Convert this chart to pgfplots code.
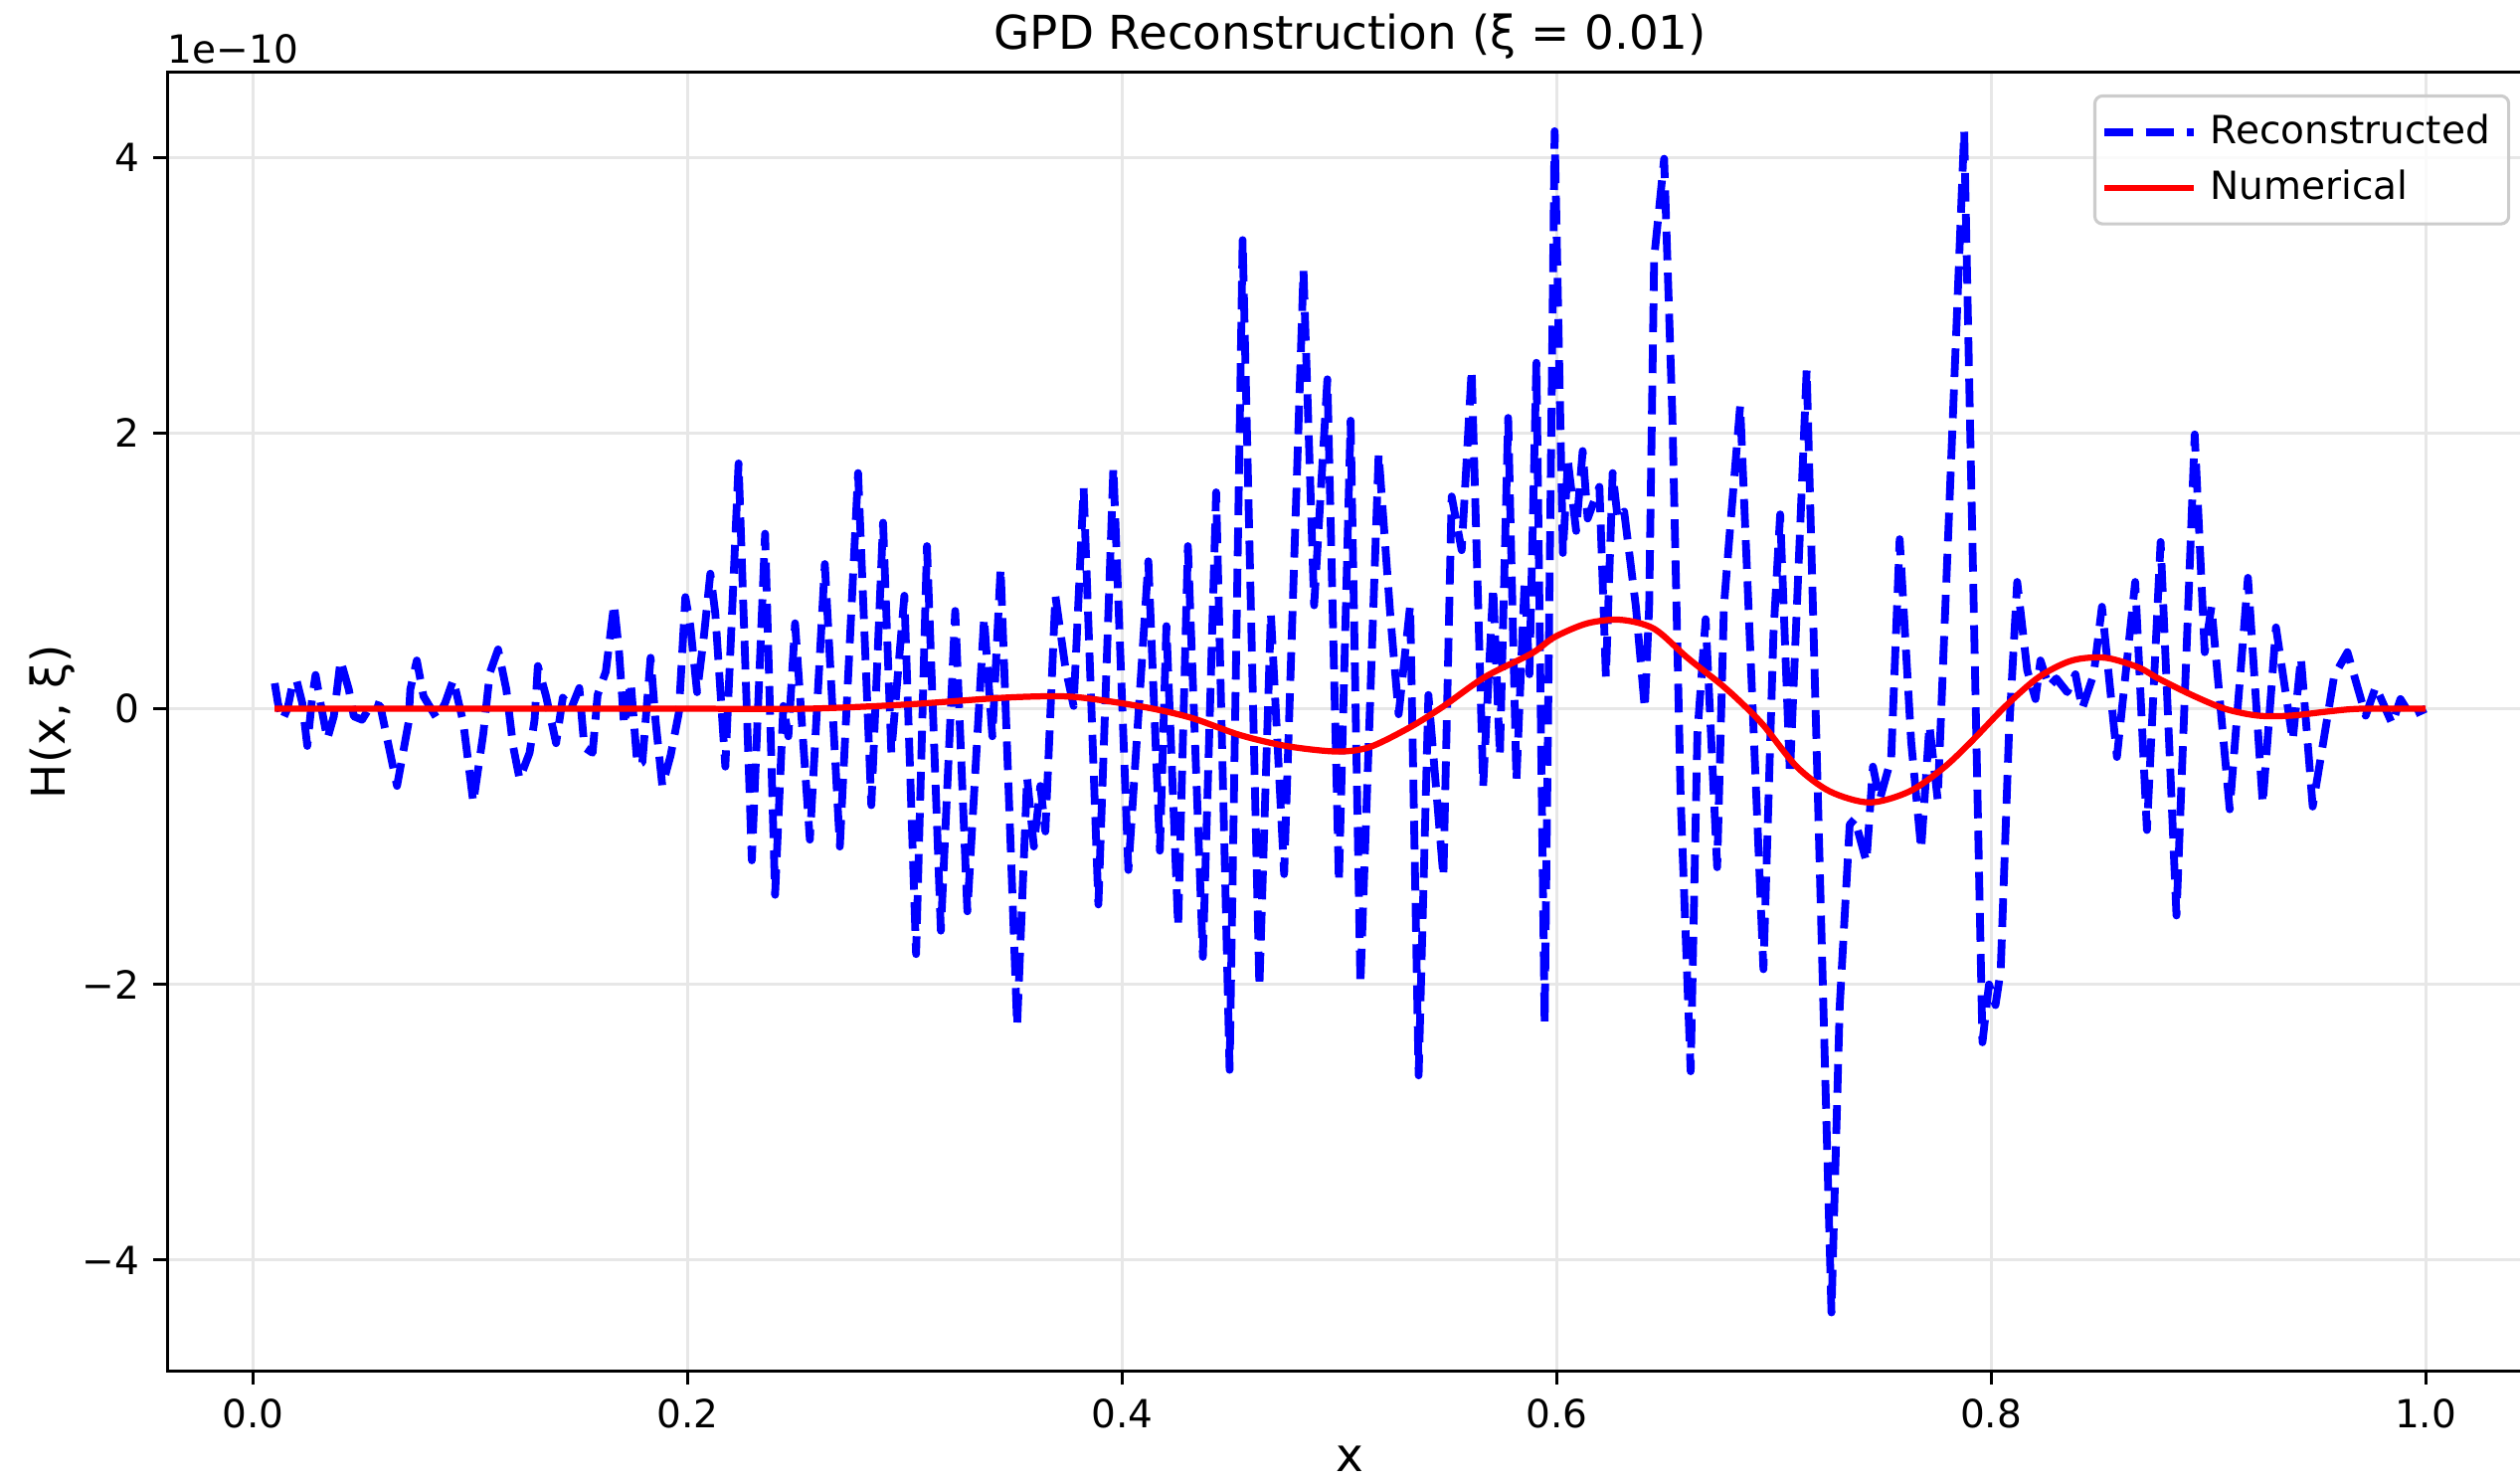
\documentclass[border=0pt]{standalone}
\usepackage{fontspec}
\setmainfont{DejaVu Sans}
\usepackage{pgfplots}
\pgfplotsset{compat=1.18}
\definecolor{gridc}{RGB}{231,231,231}
\definecolor{legedge}{RGB}{204,204,204}

\begin{document}
\begin{tikzpicture}[font=\fontsize{10}{12}\selectfont]
\begin{axis}[
  at={(0,0)}, anchor=south west,
  scale only axis,
  width=610pt, height=334.8pt,
  xmin=-0.0395, xmax=1.0495,
  ymin=-4.804, ymax=4.618,
  axis line style={line width=0.8pt},
  xtick={0,0.2,0.4,0.6,0.8,1.0},
  xticklabels={0.0,0.2,0.4,0.6,0.8,1.0},
  ytick={-4,-2,0,2,4},
  yticklabels={−4,−2,0,2,4},
  tick align=outside,
  tick pos=left,
  major tick length=3.5pt,
  every tick/.style={line width=0.8pt, black},
  minor tick num=0,
  grid=major,
  major grid style={line width=0.8pt, draw=gridc},
  xticklabel style={inner sep=0pt, font=\fontsize{10}{12}\selectfont},
  yticklabel style={inner sep=0pt, font=\fontsize{10}{12}\selectfont},
  xticklabel shift=3.5pt,
  yticklabel shift=3.5pt,
  xlabel={x},
  ylabel={H(x, ξ)},
  every axis x label/.style={at={(rel axis cs:0.5,0)}, anchor=base, yshift=-26pt, font=\fontsize{12}{14}\selectfont},
  every axis y label/.style={at={(rel axis cs:0,0.5)}, xshift=-29.5pt, rotate=90, anchor=center, font=\fontsize{12}{14}\selectfont},
  legend cell align=left,
  legend style={at={(0.9903,0.9829)}, anchor=north east, draw=legedge, line width=0.8pt,
    rounded corners=2pt, fill=white, fill opacity=0.8, text opacity=1,
    font=\fontsize{10}{12}\selectfont, inner xsep=1.5pt, inner ysep=2.2pt, row sep=0pt,
    nodes={inner xsep=3.3pt, inner ysep=2.6pt}},
  legend image code/.code={\draw[#1] (0pt,0pt) -- (20.8pt,0pt); \path (0pt,0pt) -- (23pt,0pt);},
  clip mode=individual,
]
\addplot[blue, line width=2pt, dash pattern=on 7.4pt off 3.2pt, line join=round, no markers] coordinates {
(0.0100,0.185) (0.0115,0.04) (0.0136,-0.08) (0.0159,0.0) (0.0181,0.17) (0.0200,0.21)
(0.0227,0.04) (0.0250,-0.27) (0.0273,0.09) (0.0288,0.245) (0.0311,0.04) (0.0342,-0.22)
(0.0372,-0.055) (0.0403,0.35) (0.0441,0.14) (0.0464,-0.055) (0.0502,-0.08) (0.0533,0.0)
(0.0548,0.04) (0.0586,0.02) (0.0663,-0.56) (0.0716,-0.10) (0.0724,0.14) (0.0754,0.35)
(0.0785,0.09) (0.0846,-0.07) (0.0884,0.04) (0.0922,0.21) (0.0968,-0.10) (0.1014,-0.68)
(0.1060,-0.18) (0.1090,0.26) (0.1128,0.43) (0.1166,0.14) (0.1197,-0.27) (0.1227,-0.51)
(0.1273,-0.32) (0.1296,-0.08) (0.1311,0.31) (0.1349,0.09) (0.1395,-0.25) (0.1426,0.08)
(0.1464,0.0) (0.1502,0.15) (0.1525,-0.28) (0.1563,-0.32) (0.1586,0.10) (0.1624,0.27)
(0.1662,0.76) (0.1685,0.41) (0.1708,-0.12) (0.1739,0.19) (0.1769,-0.41) (0.1792,-0.39)
(0.1830,0.37) (0.1853,-0.09) (0.1884,-0.56) (0.1922,-0.34) (0.1960,-0.03) (0.1990,0.81)
(0.2013,0.60) (0.2044,0.12) (0.2075,0.52) (0.2105,0.98) (0.2128,0.69) (0.2174,-0.42)
(0.2235,1.78) (0.2296,-1.10) (0.2357,1.27) (0.2403,-1.35) (0.2441,0.02) (0.2464,-0.20)
(0.2495,0.62) (0.2563,-0.95) (0.2632,1.05) (0.2701,-1.00) (0.2785,1.71) (0.2846,-0.70)
(0.2900,1.35) (0.2938,-0.32) (0.2998,0.82) (0.3052,-1.78) (0.3102,1.18) (0.3166,-1.61)
(0.3232,0.71) (0.3288,-1.47) (0.3365,0.66) (0.3403,-0.20) (0.3441,1.02) (0.3517,-2.30)
(0.3563,-0.50) (0.3594,-1.00) (0.3624,-0.56) (0.3647,-0.89) (0.3693,0.82) (0.3739,0.30)
(0.3777,0.02) (0.3823,1.60) (0.3891,-1.42) (0.3960,1.75) (0.4029,-1.17) (0.4121,1.07)
(0.4174,-1.03) (0.4204,0.60) (0.4258,-1.58) (0.4303,1.18) (0.4372,-1.80) (0.4433,1.57)
(0.4495,-2.62) (0.4555,3.40) (0.4632,-2.02) (0.4685,0.69) (0.4746,-1.20) (0.4835,3.18)
(0.4884,0.75) (0.4945,2.39) (0.4998,-1.26) (0.5052,2.09) (0.5097,-2.00) (0.5181,1.85)
(0.5235,0.67) (0.5273,-0.04) (0.5326,0.75) (0.5365,-2.66) (0.5410,0.10) (0.5479,-1.22)
(0.5517,1.54) (0.5563,1.15) (0.5609,2.46) (0.5662,-0.56) (0.5708,0.88) (0.5739,-0.34)
(0.5777,2.11) (0.5815,-0.52) (0.5853,0.93) (0.5875,0.25) (0.5907,2.51) (0.5945,-2.28)
(0.5991,4.19) (0.6029,1.13) (0.6052,1.80) (0.6090,1.29) (0.6120,1.87) (0.6143,1.38)
(0.6197,1.61) (0.6227,0.23) (0.6258,1.71) (0.6281,1.38) (0.6311,1.43) (0.6365,0.74)
(0.6406,0.0) (0.6426,0.74) (0.6449,3.27) (0.6495,3.99) (0.6533,2.12) (0.6571,-0.65)
(0.6617,-2.63) (0.6648,-0.18) (0.6686,0.65) (0.6739,-1.15) (0.6770,0.74) (0.6793,1.20)
(0.6845,2.20) (0.6952,-1.89) (0.6998,0.54) (0.7029,1.41) (0.7074,-0.48) (0.7151,2.46)
(0.7265,-4.38) (0.7303,-2.16) (0.7349,-0.84) (0.7372,-0.80) (0.7426,-1.11) (0.7456,-0.42)
(0.7487,-0.66) (0.7540,-0.36) (0.7579,1.23) (0.7632,-0.24) (0.7678,-1.02) (0.7716,-0.12)
(0.7754,-0.66) (0.7876,4.19) (0.7960,-2.42) (0.7990,-2.00) (0.8020,-2.15) (0.8044,-1.90)
(0.8082,-0.18) (0.8120,0.92) (0.8166,0.28) (0.8204,0.07) (0.8227,0.35) (0.8266,0.16)
(0.8300,0.22) (0.8350,0.12) (0.8388,0.25) (0.8419,0.0) (0.8472,0.25) (0.8510,0.74)
(0.8579,-0.35) (0.8663,0.92) (0.8717,-0.88) (0.8780,1.21) (0.8853,-1.50) (0.8937,1.99)
(0.8983,0.41) (0.9014,0.74) (0.9098,-0.73) (0.9182,0.95) (0.9250,-0.69) (0.9311,0.59)
(0.9388,-0.23) (0.9426,0.37) (0.9480,-0.71) (0.9579,0.24) (0.9640,0.41) (0.9724,-0.05)
(0.9770,0.16) (0.9846,-0.11) (0.9884,0.07) (0.9931,-0.05) (1.0000,0.0)
};
\addlegendentry{Reconstructed}
\addplot[red, line width=1.6pt, smooth, no markers] coordinates {
(0.01,0) (0.1,0.0) (0.2,0.0) (0.254,0.0) (0.30,0.03) (0.3456,0.08) (0.3731,0.09)
(0.3914,0.06) (0.4143,0.0) (0.4327,-0.07) (0.4541,-0.19) (0.4754,-0.27) (0.4983,-0.31)
(0.5136,-0.28) (0.5319,-0.14) (0.5472,0.01) (0.5670,0.23) (0.5884,0.40) (0.5991,0.52)
(0.6143,0.62) (0.6296,0.645) (0.6449,0.58) (0.6602,0.37) (0.6754,0.18) (0.6846,0.05)
(0.6952,-0.12) (0.7105,-0.42) (0.7258,-0.60) (0.7441,-0.68) (0.7624,-0.60) (0.7780,-0.43)
(0.7914,-0.23) (0.8067,0.02) (0.8220,0.23) (0.8372,0.35) (0.8525,0.37) (0.8678,0.30)
(0.8769,0.22) (0.8923,0.10) (0.9075,0.0) (0.9228,-0.05) (0.938,-0.05) (0.955,-0.02)
(0.97,0.0) (1.0,0.0)
};
\addlegendentry{Numerical}
\end{axis}
\node[anchor=base west, inner sep=0pt, font=\fontsize{10}{12}\selectfont] at (0pt,337pt) {1e−10};
\node[anchor=base, inner sep=0pt, font=\fontsize{12}{14}\selectfont] at (305pt,340.8pt) {GPD Reconstruction (ξ = 0.01)};
\pgfresetboundingbox
\path[use as bounding box] (-43.1pt,-28.8pt) rectangle (606.6pt,353.4pt);
\end{tikzpicture}
\end{document}
